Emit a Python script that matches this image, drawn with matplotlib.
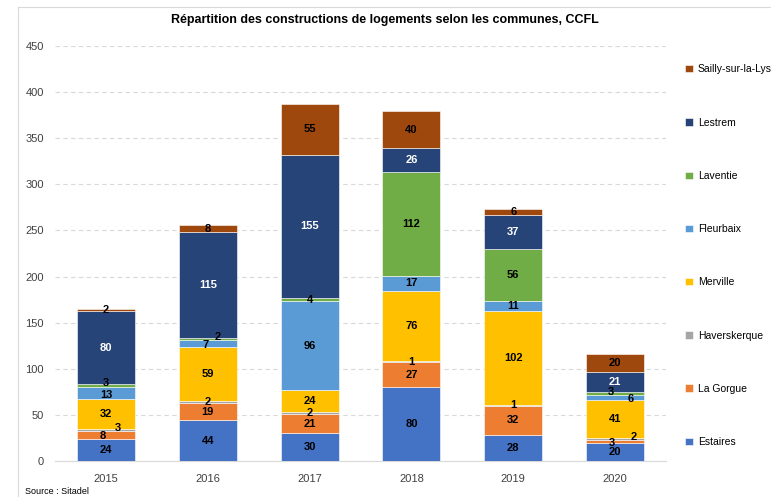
import matplotlib.pyplot as plt
import numpy as np

plt.rcParams['font.family'] = ['Liberation Sans', 'DejaVu Sans']

years = ["2015", "2016", "2017", "2018", "2019", "2020"]
communes = ["Estaires", "La Gorgue", "Haverskerque", "Merville",
            "Fleurbaix", "Laventie", "Lestrem", "Sailly-sur-la-Lys"]

estaires = [24, 44, 30, 80, 28, 20]
la_gorgue = [8, 19, 21, 27, 32, 3]
haverskerque = [3, 2, 2, 1, 1, 2]
merville = [32, 59, 24, 76, 102, 41]
fleurbaix = [13, 7, 96, 17, 11, 6]
laventie = [3, 2, 4, 112, 56, 3]
lestrem = [80, 115, 155, 26, 37, 21]
sailly = [2, 8, 55, 40, 6, 20]

series = [estaires, la_gorgue, haverskerque, merville, fleurbaix, laventie, lestrem, sailly]
colors = ["#4472C4", "#ED7D31", "#A5A5A5", "#FFC000",
          "#5B9BD5", "#70AD47", "#264478", "#9E480E"]
text_colors = ["black"] * 6 + ["white", "black"]

# small nudges (series index, year index) for tiny segments so labels don't collide
nudges = {(1, 0): (-0.03, -1), (2, 0): (0.12, 2), (5, 0): (0, 3), (4, 0): (0, -2),
          (4, 1): (-0.02, -2), (5, 1): (0.1, 2),
          (1, 5): (-0.03, -2), (2, 5): (0.18, 2),
          (4, 5): (0.15, -2), (5, 5): (-0.04, 1)}

fig = plt.figure(figsize=(7.71, 4.97), dpi=100)
ax = fig.add_axes([55 / 771, 1 - 461 / 497, 611 / 771, 415 / 497])

x = np.arange(len(years))
bottom = np.zeros(len(years))
handles = []
for i, (vals, c) in enumerate(zip(series, colors)):
    vals = np.array(vals)
    b = ax.bar(x, vals, 0.57, bottom=bottom, color=c, edgecolor="white", linewidth=0.4,
               label=communes[i], zorder=3)
    handles.append(b)
    for j, v in enumerate(vals):
        dx, dy = nudges.get((i, j), (0, 0))
        ax.text(x[j] + dx, bottom[j] + v / 2 + dy, str(v), ha="center", va="center",
                fontsize=8, fontweight="bold", color=text_colors[i], zorder=4)
    bottom += vals

ax.set_xlim(-0.5, 5.5)
ax.set_ylim(0, 450)
ax.set_yticks(range(0, 451, 50))
ax.set_xticks(x)
ax.set_xticklabels(years)
ax.tick_params(axis="both", length=0, labelsize=8, colors="#404040")
ax.tick_params(axis="x", pad=9)
ax.tick_params(axis="y", pad=8)
ax.yaxis.grid(True, linestyle=(0, (4, 3)), color="#d9d9d9", linewidth=0.8, zorder=0)
for s in ["top", "right", "left"]:
    ax.spines[s].set_visible(False)
ax.spines["bottom"].set_color("#d9d9d9")

fig.text(385 / 771, 1 - 20 / 497,
         "Répartition des constructions de logements selon les communes, CCFL",
         ha="center", va="center", fontsize=9, fontweight="bold")
fig.text(25 / 771, 1 - 491 / 497, "Source : Sitadel", ha="left", va="center", fontsize=6.5)

leg = fig.legend(handles[::-1], communes[::-1], loc="upper left",
                 bbox_to_anchor=(676 / 771, 1 - 55 / 497), frameon=False,
                 fontsize=7.5, labelspacing=4.15, handlelength=0.7, handleheight=0.7,
                 handletextpad=0.5)

# chart frame lines (left and top)
fig.add_artist(plt.Line2D([18 / 771, 18 / 771], [0, 1 - 7 / 497], color="#d9d9d9", lw=0.8))
fig.add_artist(plt.Line2D([18 / 771, 1], [1 - 7 / 497, 1 - 7 / 497], color="#d9d9d9", lw=0.8))

plt.savefig("out.png", dpi=100)
plt.close()
